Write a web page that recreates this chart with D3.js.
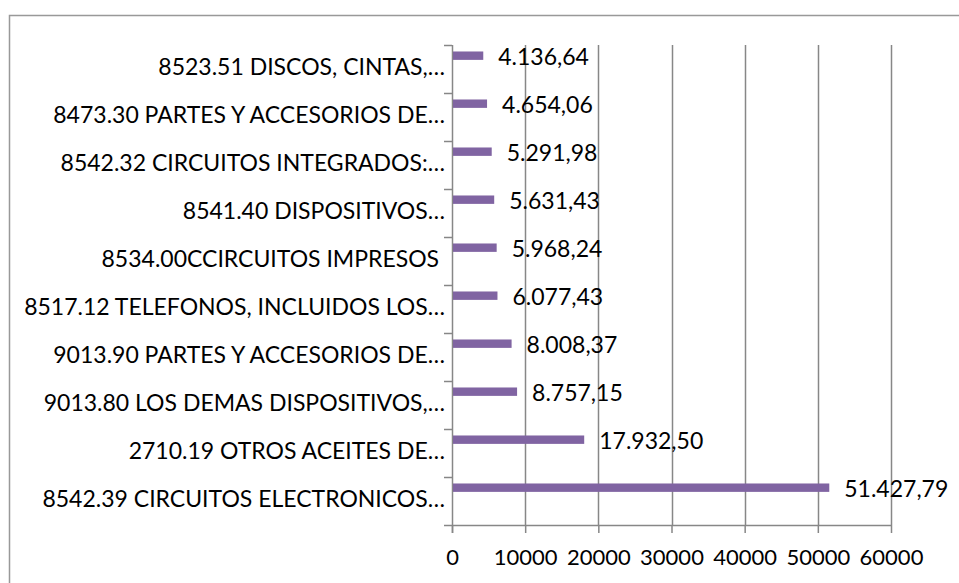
<!DOCTYPE html>
<html>
<head>
<meta charset="utf-8">
<script src="https://cdn.jsdelivr.net/npm/d3@7/dist/d3.min.js"></script>
<style>
    body { margin: 0; background: #fff; }
    text { font-family: Lato, "Open Sans", sans-serif; fill: #000; }
</style>
</head>
<body>
<svg id="chart" width="959" height="583"></svg>
<script>
// categories, top to bottom as shown
var categories = [
    "8523.51 DISCOS, CINTAS,\u2026",
    "8473.30 PARTES Y ACCESORIOS DE\u2026",
    "8542.32 CIRCUITOS INTEGRADOS:\u2026",
    "8541.40 DISPOSITIVOS\u2026",
    "8534.00CCIRCUITOS IMPRESOS ",
    "8517.12 TELEFONOS, INCLUIDOS LOS\u2026",
    "9013.90 PARTES Y ACCESORIOS DE\u2026",
    "9013.80 LOS DEMAS DISPOSITIVOS,\u2026",
    "2710.19 OTROS ACEITES DE\u2026",
    "8542.39 CIRCUITOS ELECTRONICOS\u2026"
];
var values = [4136.64, 4654.06, 5291.98, 5631.43, 5968.24, 6077.43, 8008.37, 8757.15, 17932.50, 51427.79];
var xTicks = [0, 10000, 20000, 30000, 40000, 50000, 60000];

var svg = d3.select("#chart"),
    GRID = "#878787",
    BAR = "#8064a2",
    LABEL_SIZE = 23,
    TICK_SIZE = 22,
    plotL = 452, plotR = 891, plotT = 45, plotB = 525;

var esLocale = d3.formatLocale({decimal: ",", thousands: ".", grouping: [3], currency: ["", ""]});
var fmt = esLocale.format(",.2f");

var x = d3.scaleLinear().domain([0, 60000]).range([plotL, plotR]);
var y = d3.scaleBand().domain(categories).range([plotT, plotB]);

// chart border (runs off the picture to the right and bottom)
svg.append("rect")
    .attr("x", 9.5).attr("y", 15.5)
    .attr("width", 1000).attr("height", 1000)
    .attr("fill", "none")
    .attr("stroke", "#999")
    .attr("stroke-width", 1.5);

// vertical gridlines
svg.append("g")
    .selectAll("line")
    .data(xTicks.slice(1))
    .enter().append("line")
    .attr("x1", function (d) { return Math.round(x(d)) + 0.5; })
    .attr("x2", function (d) { return Math.round(x(d)) + 0.5; })
    .attr("y1", plotT)
    .attr("y2", plotB)
    .attr("stroke", GRID)
    .attr("stroke-width", 1.5);

// x axis
var xAxis = d3.axisBottom(x)
    .tickValues(xTicks)
    .tickFormat(d3.format("d"))
    .tickSize(8)
    .tickPadding(16)
    .tickSizeOuter(0);

var gx = svg.append("g")
    .attr("transform", "translate(0," + plotB + ")")
    .call(xAxis);
gx.select(".domain").remove();
gx.selectAll("line").attr("stroke", GRID).attr("stroke-width", 1.5);
gx.selectAll("text")
    .style("font-size", TICK_SIZE + "px")
    .style("font-family", "Lato, sans-serif");

// y axis, labels centred in each band
var yAxis = d3.axisLeft(y).tickSize(0).tickPadding(7);
var gy = svg.append("g")
    .attr("transform", "translate(" + plotL + ",-1)")
    .call(yAxis);
gy.select(".domain").remove();
gy.selectAll("text")
    .style("font-size", LABEL_SIZE + "px")
    .style("font-family", "Lato, sans-serif")
    .style("white-space", "pre");

svg.append("line")
    .attr("x1", plotL + 0.5).attr("x2", plotL + 0.5)
    .attr("y1", plotT).attr("y2", plotB + 8)
    .attr("stroke", GRID).attr("stroke-width", 1.5);

svg.append("line")
    .attr("x1", plotL - 8).attr("x2", plotR)
    .attr("y1", plotB + 0.5).attr("y2", plotB + 0.5)
    .attr("stroke", GRID).attr("stroke-width", 1.5);

// tick marks between categories
svg.append("g")
    .selectAll("line")
    .data(categories)
    .enter().append("line")
    .attr("x1", plotL - 8).attr("x2", plotL)
    .attr("y1", function (d) { return Math.round(y(d)) + 0.5; })
    .attr("y2", function (d) { return Math.round(y(d)) + 0.5; })
    .attr("stroke", GRID).attr("stroke-width", 1.5);

// bars sit in the upper part of each band (first of two series slots)
var barTop = y.bandwidth() * 0.135,
    barH = y.bandwidth() * 0.175;

svg.append("g")
    .selectAll("rect")
    .data(values)
    .enter().append("rect")
    .attr("x", x(0) + 1)
    .attr("y", function (d, i) { return y(categories[i]) + barTop; })
    .attr("width", function (d) { return x(d) - x(0); })
    .attr("height", barH)
    .attr("fill", BAR);

// value labels
svg.append("g")
    .selectAll("text")
    .data(values)
    .enter().append("text")
    .attr("x", function (d) { return x(d) + 16; })
    .attr("y", function (d, i) { return y(categories[i]) + barTop + barH / 2 + 1; })
    .attr("dy", "0.35em")
    .style("font-size", LABEL_SIZE + "px")
    .text(function (d) { return fmt(d); });
</script>
</body>
</html>
